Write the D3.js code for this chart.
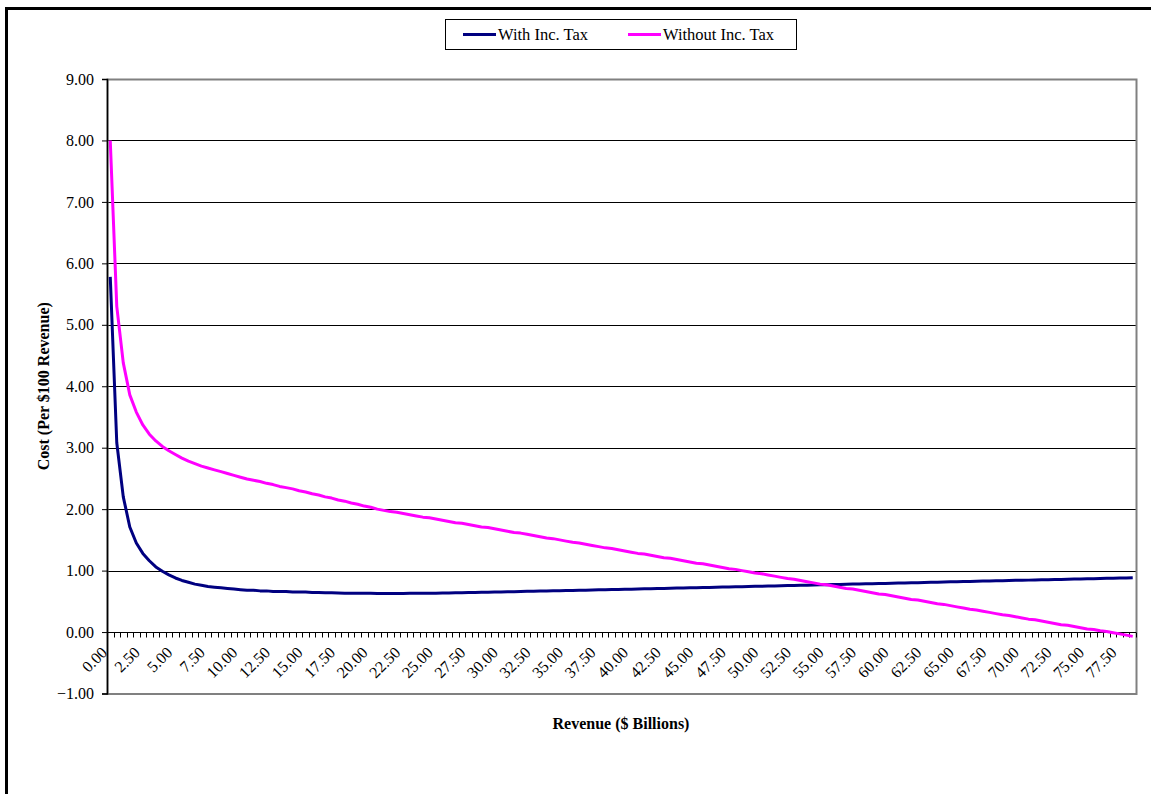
<!DOCTYPE html>
<html>
<head>
<meta charset="utf-8">
<script src="https://cdn.jsdelivr.net/npm/d3@7"></script>
<style>
  body { margin: 0; background: #fff; }
  text { font-family: "Liberation Serif", "Times New Roman", serif; }
</style>
</head>
<body>
<svg id="chart" width="1151" height="794"></svg>
<script>
// revenue categories, $ billions, every 0.50
const revenue = d3.range(158).map(i => (i * 0.5).toFixed(2));

// Cost per $100 revenue
const withTax = [
  5.78, 3.08, 2.20, 1.71, 1.45, 1.28, 1.16, 1.06, 0.99, 0.93,
  0.88, 0.84, 0.81, 0.78, 0.76, 0.74, 0.73, 0.72, 0.71, 0.70,
  0.69, 0.68, 0.68, 0.67, 0.67, 0.66, 0.66, 0.66, 0.65, 0.65,
  0.65, 0.645, 0.642, 0.640, 0.638, 0.636, 0.633, 0.632, 0.631, 0.630,
  0.630, 0.629, 0.629, 0.629, 0.629, 0.629, 0.630, 0.630, 0.631, 0.632,
  0.633, 0.635, 0.637, 0.639, 0.641, 0.643, 0.645, 0.647, 0.649, 0.651,
  0.653, 0.655, 0.657, 0.660, 0.662, 0.664, 0.666, 0.668, 0.671, 0.673,
  0.675, 0.677, 0.680, 0.682, 0.684, 0.687, 0.689, 0.691, 0.694, 0.696,
  0.698, 0.701, 0.703, 0.705, 0.708, 0.710, 0.712, 0.715, 0.717, 0.720,
  0.722, 0.724, 0.727, 0.729, 0.732, 0.734, 0.736, 0.739, 0.741, 0.744,
  0.746, 0.749, 0.751, 0.753, 0.756, 0.758, 0.761, 0.763, 0.766, 0.768,
  0.770, 0.773, 0.775, 0.778, 0.780, 0.783, 0.785, 0.787, 0.790, 0.792,
  0.795, 0.797, 0.800, 0.802, 0.804, 0.807, 0.809, 0.812, 0.814, 0.817,
  0.819, 0.821, 0.824, 0.826, 0.829, 0.831, 0.833, 0.836, 0.838, 0.841,
  0.843, 0.845, 0.848, 0.850, 0.853, 0.855, 0.857, 0.860, 0.862, 0.865,
  0.867, 0.869, 0.872, 0.874, 0.876, 0.879, 0.881, 0.884
];

const withoutTax = [
  8.00, 5.30, 4.38, 3.86, 3.58, 3.37, 3.22, 3.11, 3.02, 2.95,
  2.89, 2.83, 2.78, 2.74, 2.70, 2.67, 2.64, 2.61, 2.58, 2.55,
  2.52, 2.49, 2.47, 2.45, 2.42, 2.40, 2.37, 2.35, 2.33, 2.30,
  2.28, 2.25, 2.23, 2.20, 2.18, 2.15, 2.13, 2.10, 2.08, 2.05,
  2.03, 2.00, 1.98, 1.96, 1.95, 1.93, 1.91, 1.89, 1.87, 1.86,
  1.84, 1.82, 1.80, 1.78, 1.77, 1.75, 1.73, 1.71, 1.70, 1.68,
  1.66, 1.64, 1.62, 1.61, 1.59, 1.57, 1.55, 1.53, 1.52, 1.50,
  1.48, 1.46, 1.45, 1.43, 1.41, 1.39, 1.37, 1.36, 1.34, 1.32,
  1.30, 1.28, 1.27, 1.25, 1.23, 1.21, 1.20, 1.18, 1.16, 1.14,
  1.12, 1.11, 1.09, 1.07, 1.05, 1.03, 1.02, 1.00, 0.98, 0.96,
  0.95, 0.93, 0.91, 0.89, 0.87, 0.86, 0.84, 0.82, 0.80, 0.78,
  0.77, 0.75, 0.73, 0.71, 0.70, 0.68, 0.66, 0.64, 0.62, 0.61,
  0.59, 0.57, 0.55, 0.53, 0.52, 0.50, 0.48, 0.46, 0.45, 0.43,
  0.41, 0.39, 0.37, 0.36, 0.34, 0.32, 0.30, 0.28, 0.27, 0.25,
  0.23, 0.21, 0.20, 0.18, 0.16, 0.14, 0.12, 0.11, 0.09, 0.07,
  0.05, 0.04, 0.02, 0.01, -0.01, -0.03, -0.05, -0.07
];

const yTicks = [-1, 0, 1, 2, 3, 4, 5, 6, 7, 8, 9];

const series = [
  { name: "With Inc. Tax", values: withTax, color: "#000080" },
  { name: "Without Inc. Tax", values: withoutTax, color: "#FF00FF" }
];

const svg = d3.select("#chart");

// outer chart frame (right and bottom edges run off the picture)
svg.append("rect")
  .attr("x", 6.5).attr("y", 8.5)
  .attr("width", 1300).attr("height", 900)
  .attr("fill", "none").attr("stroke", "#000").attr("stroke-width", 3);

const plotL = 107, plotR = 1136, plotT = 79, plotB = 693.5;

const x = d3.scaleBand().domain(revenue).range([plotL, plotR]);
const y = d3.scaleLinear().domain([-1, 9]).range([plotB, plotT]);

// gridlines
svg.append("g")
  .selectAll("line")
  .data(yTicks.filter(d => d > 0 && d < 9))
  .enter().append("line")
  .attr("x1", plotL).attr("x2", plotR)
  .attr("y1", d => Math.round(y(d)) + 0.5)
  .attr("y2", d => Math.round(y(d)) + 0.5)
  .attr("stroke", "#000").attr("stroke-width", 1);

// plot area border
svg.append("rect")
  .attr("x", plotL + 0.5).attr("y", plotT + 0.5)
  .attr("width", plotR - plotL).attr("height", plotB - plotT)
  .attr("fill", "none").attr("stroke", "#808080").attr("stroke-width", 2);

// y axis
const yAxis = svg.append("g")
  .attr("transform", `translate(${plotL},0)`)
  .call(d3.axisLeft(y).tickValues(yTicks).tickFormat(d3.format(".2f")).tickSize(5).tickPadding(8));
yAxis.select(".domain").attr("stroke", "#000").attr("stroke-width", 1.5);
yAxis.selectAll(".tick line").attr("stroke", "#000");
yAxis.selectAll("text").attr("font-size", 16).attr("fill", "#000");

// x axis at zero: ticks between categories, labels every 2.50
const y0 = Math.round(y(0)) + 0.5;
const xAxisG = svg.append("g");
xAxisG.append("line")
  .attr("x1", plotL).attr("x2", plotR).attr("y1", y0).attr("y2", y0)
  .attr("stroke", "#000").attr("stroke-width", 1);
xAxisG.selectAll("line.tk")
  .data(d3.range(revenue.length + 1))
  .enter().append("line")
  .attr("class", "tk")
  .attr("x1", i => Math.round(plotL + i * x.step()) + 0.5)
  .attr("x2", i => Math.round(plotL + i * x.step()) + 0.5)
  .attr("y1", y0).attr("y2", y0 + 5)
  .attr("stroke", "#000");
xAxisG.selectAll("text")
  .data(revenue.filter((d, i) => i % 5 === 0))
  .enter().append("text")
  .attr("transform", d => `translate(${x(d) + x.bandwidth() / 2 - 2},${y0 + 21}) rotate(-45)`)
  .attr("text-anchor", "end")
  .attr("font-size", 16)
  .text(d => d);

// series lines
const line = d3.line()
  .x((d, i) => x(revenue[i]) + x.bandwidth() / 2)
  .y(d => y(d));

svg.append("g")
  .selectAll("path")
  .data(series)
  .enter().append("path")
  .attr("d", d => line(d.values))
  .attr("fill", "none")
  .attr("stroke", d => d.color)
  .attr("stroke-width", 3)
  .attr("stroke-linejoin", "round");

// axis titles
svg.append("text")
  .attr("transform", `translate(49,${(plotT + plotB) / 2}) rotate(-90)`)
  .attr("text-anchor", "middle")
  .attr("font-size", 16).attr("font-weight", "bold")
  .text("Cost (Per $100 Revenue)");

svg.append("text")
  .attr("x", 621).attr("y", 729)
  .attr("text-anchor", "middle")
  .attr("font-size", 16).attr("font-weight", "bold")
  .text("Revenue ($ Billions)");

// legend
const legend = svg.append("g");
legend.append("rect")
  .attr("x", 445.5).attr("y", 19.5).attr("width", 351).attr("height", 30)
  .attr("fill", "#fff").attr("stroke", "#000").attr("stroke-width", 1);
const items = legend.selectAll("g.item")
  .data(series)
  .enter().append("g")
  .attr("transform", (d, i) => `translate(${i === 0 ? 463 : 628},34.5)`);
items.append("line")
  .attr("x1", 0).attr("x2", 33)
  .attr("stroke", d => d.color).attr("stroke-width", 3);
items.append("text")
  .attr("x", 35).attr("dy", "0.35em")
  .attr("font-size", 16.5)
  .text(d => d.name);
</script>
</body>
</html>
